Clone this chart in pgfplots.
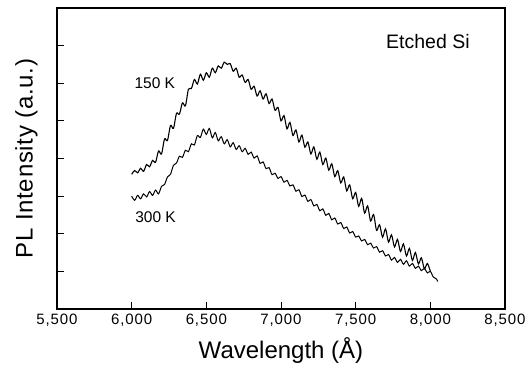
\documentclass[border=0pt]{standalone}
\usepackage{pgfplots}
\pgfplotsset{compat=1.18}
\usepackage{fontspec}
\setmainfont{Liberation Sans}
\begin{document}
\begin{tikzpicture}
\useasboundingbox (-57bp,-59bp) rectangle (470bp,309bp);
\begin{axis}[
  at={(0,0)}, anchor=south west,
  scale only axis, width=448bp, height=301bp,
  xmin=5500, xmax=8500, ymin=0, ymax=8,
  xtick={5500,6000,6500,7000,7500,8000,8500},
  ytick={1,2,3,4,5,6,7}, yticklabels={},
  tick pos=left, tick align=inside,
  major tick length=7bp,
  /pgf/number format/assume math mode=true,
  /pgf/number format/1000 sep={,},
  ticklabel style={font=\fontsize{15bp}{17bp}\selectfont\addfontfeatures{LetterSpace=6}},
  xticklabel style={yshift=-2bp},
  axis line style={line width=1.4bp},
  every tick/.style={line width=1bp, black},
  xlabel={Wavelength (Å)},
  ylabel={\addfontfeatures{LetterSpace=3}PL Intensity (a.u.)},
  label style={font=\fontsize{24bp}{27bp}\selectfont},
  xlabel style={yshift=-4bp},
  ylabel style={yshift=9bp},
  clip=false,
]
\addplot[black, line width=1.1bp, smooth, tension=0.5] coordinates {
(6000,3.58)(6020,3.68)(6040,3.62)(6060,3.74)(6080,3.66)(6100,3.84)(6120,3.78)(6140,3.95)(6160,3.90)(6180,4.20)
(6200,4.12)(6220,4.52)(6240,4.48)(6260,4.88)(6280,4.80)(6300,5.20)(6320,5.18)(6340,5.48)(6360,5.40)(6380,5.84)
(6400,5.86)(6420,6.10)(6440,5.98)(6460,6.24)(6480,6.08)(6500,6.28)(6520,6.16)(6540,6.40)(6560,6.28)(6580,6.46)
(6600,6.40)(6620,6.56)(6640,6.50)(6660,6.52)(6680,6.32)(6700,6.40)(6720,6.16)(6740,6.22)(6760,6.02)(6780,6.10)
(6800,5.84)(6820,5.92)(6840,5.66)(6860,5.80)(6880,5.58)(6900,5.72)(6920,5.46)(6940,5.58)(6960,5.28)(6980,5.36)
(7000,5.00)(7020,5.14)(7040,4.79)(7060,4.96)(7080,4.61)(7100,4.76)(7120,4.44)(7140,4.62)(7160,4.30)(7180,4.44)
(7200,4.12)(7220,4.31)(7240,3.98)(7260,4.17)(7280,3.84)(7300,4.01)(7320,3.69)(7340,3.86)(7360,3.52)(7380,3.68)
(7400,3.35)(7420,3.51)(7440,3.14)(7460,3.30)(7480,2.93)(7500,3.10)(7520,2.73)(7540,2.94)(7560,2.55)(7580,2.74)
(7600,2.34)(7620,2.51)(7640,2.09)(7660,2.24)(7680,1.91)(7700,2.13)(7720,1.78)(7740,1.97)(7760,1.65)(7780,1.85)
(7800,1.53)(7820,1.73)(7840,1.41)(7860,1.61)(7880,1.29)(7900,1.50)(7920,1.20)(7940,1.36)(7960,1.07)(7980,1.21)
(8000,1.00)
};
\addplot[black, line width=1.0bp, smooth, tension=0.5] coordinates {
(6000,3.00)(6020,2.89)(6040,3.02)(6060,2.93)(6080,3.06)(6100,2.98)(6120,3.12)(6140,3.02)(6160,3.16)(6180,3.06)
(6200,3.26)(6220,3.31)(6240,3.51)(6260,3.58)(6280,3.82)(6300,3.88)(6320,4.06)(6340,4.03)(6360,4.22)(6380,4.18)
(6400,4.39)(6420,4.36)(6440,4.61)(6460,4.56)(6480,4.78)(6500,4.64)(6520,4.80)(6540,4.55)(6560,4.69)(6580,4.47)
(6600,4.58)(6620,4.39)(6640,4.50)(6660,4.31)(6680,4.42)(6700,4.24)(6720,4.34)(6740,4.18)(6760,4.27)(6780,4.11)
(6800,4.17)(6820,4.01)(6840,4.07)(6860,3.87)(6880,3.91)(6900,3.73)(6920,3.76)(6940,3.57)(6960,3.61)(6980,3.47)
(7000,3.52)(7020,3.37)(7040,3.42)(7060,3.27)(7080,3.30)(7100,3.13)(7120,3.17)(7140,2.99)(7160,3.03)(7180,2.86)
(7200,2.91)(7220,2.74)(7240,2.78)(7260,2.61)(7280,2.66)(7300,2.49)(7320,2.54)(7340,2.37)(7360,2.42)(7380,2.26)
(7400,2.30)(7420,2.14)(7440,2.18)(7460,2.02)(7480,2.06)(7500,1.91)(7520,1.94)(7540,1.81)(7560,1.85)(7580,1.71)
(7600,1.75)(7620,1.62)(7640,1.66)(7660,1.51)(7680,1.55)(7700,1.41)(7720,1.45)(7740,1.30)(7760,1.37)(7780,1.24)
(7800,1.32)(7820,1.19)(7840,1.28)(7860,1.14)(7880,1.21)(7900,1.08)(7920,1.14)(7940,1.02)(7960,1.08)(7980,0.96)
(8000,1.00)(8020,0.85)(8040,0.80)(8050,0.73)
};
\node[font=\fontsize{15.5bp}{17bp}\selectfont] at (axis cs:6155,6.00) {150 K};
\node[font=\fontsize{15.5bp}{17bp}\selectfont] at (axis cs:6160,2.44) {300 K};
\node[font=\fontsize{19.5bp}{22bp}\selectfont] at (axis cs:7984,7.10) {Etched Si};
\end{axis}
\end{tikzpicture}
\end{document}
